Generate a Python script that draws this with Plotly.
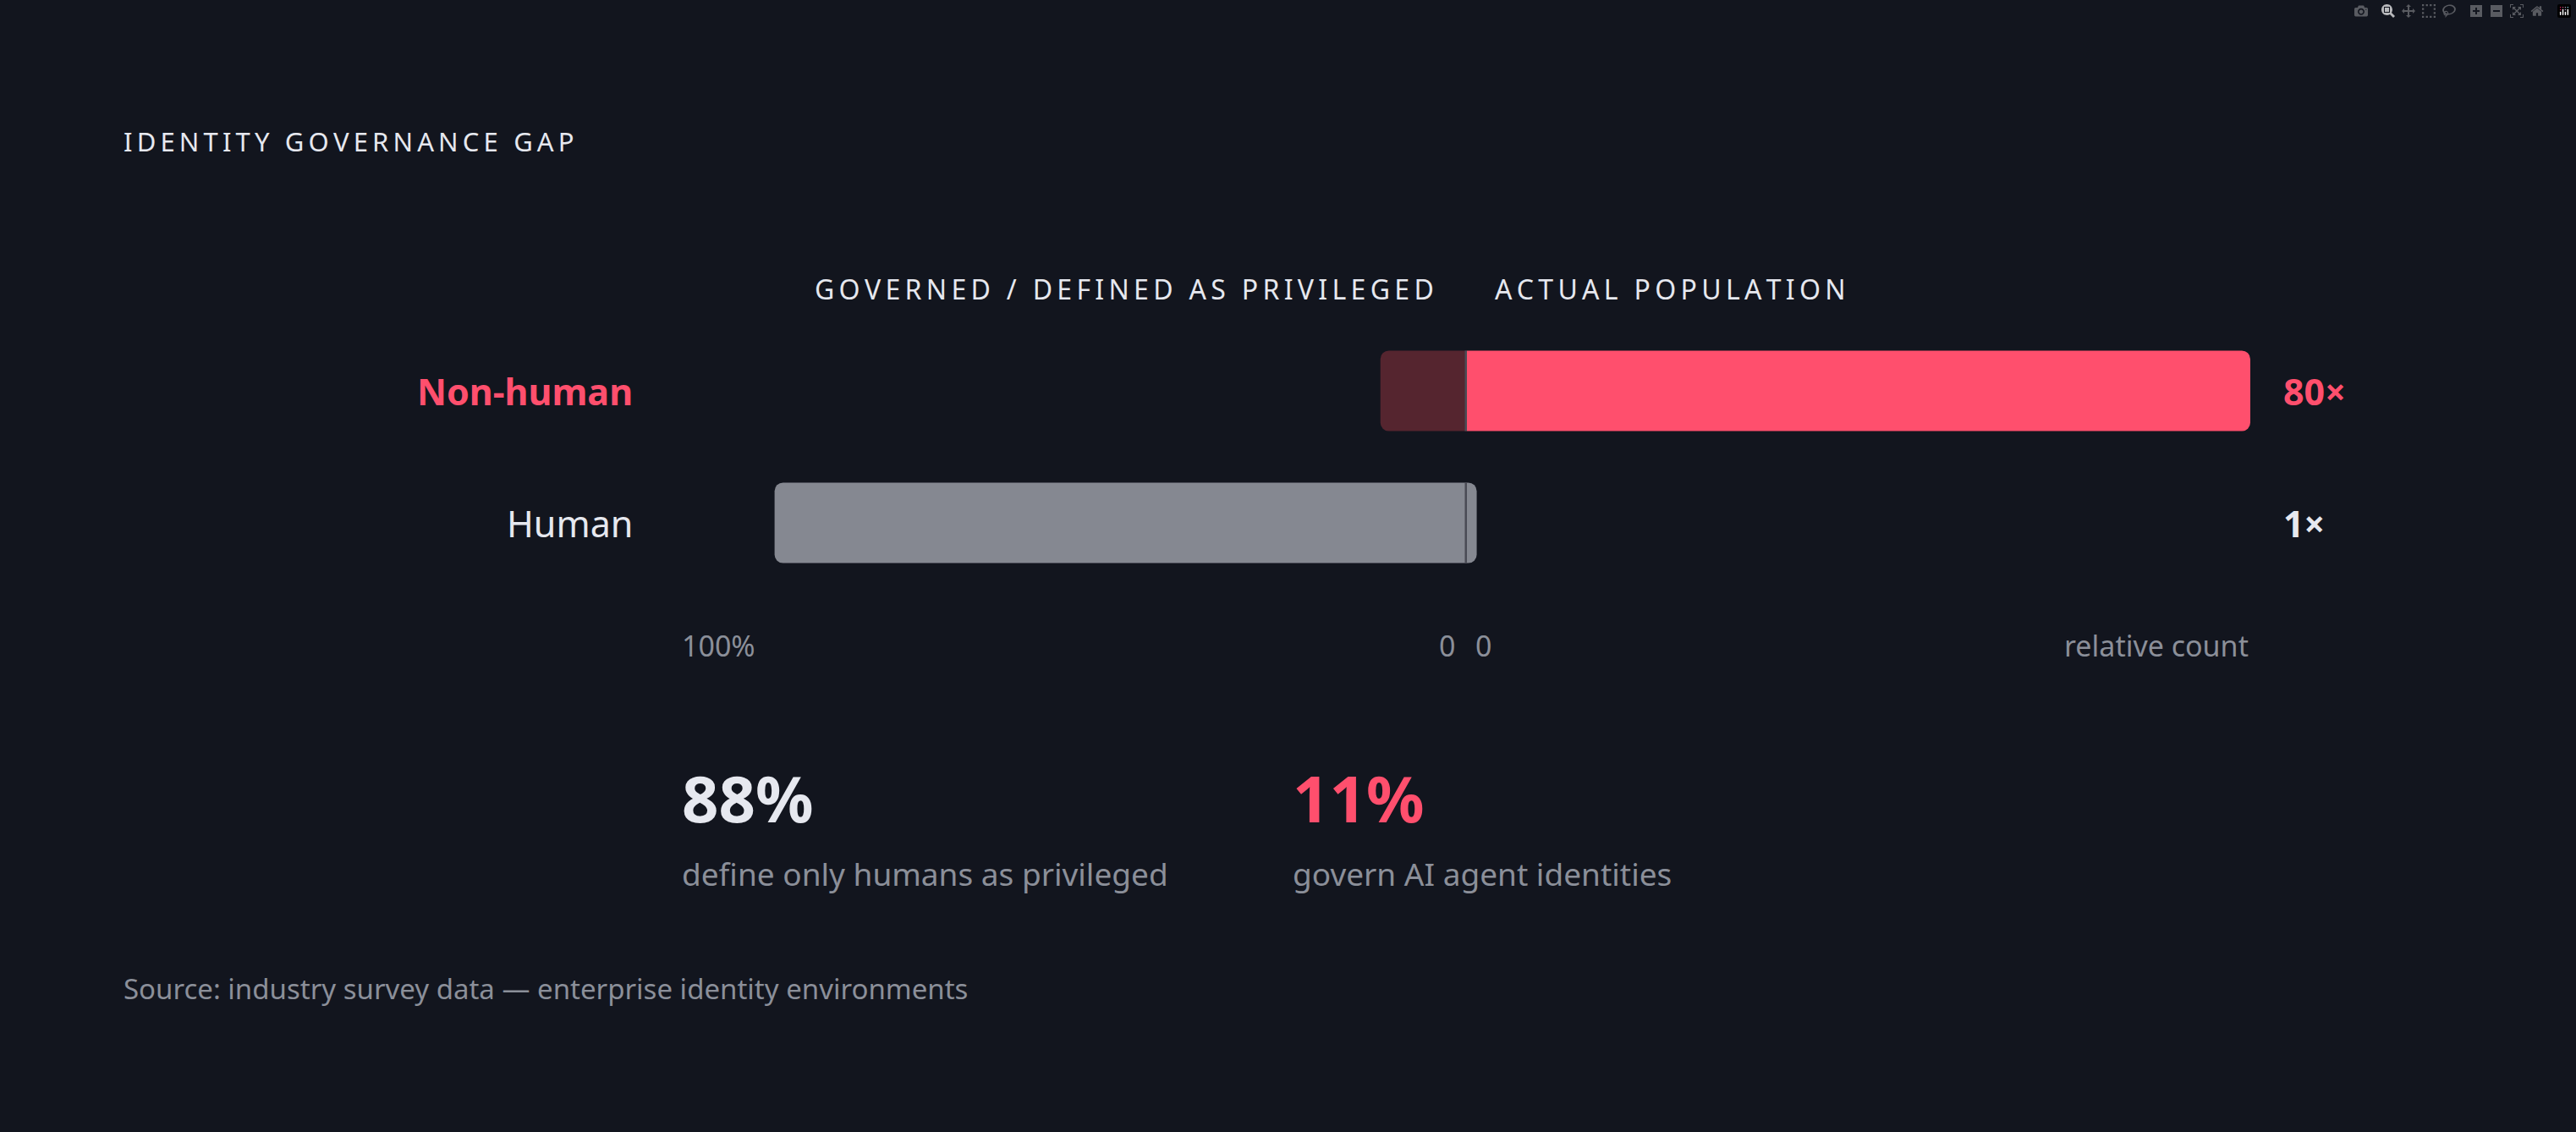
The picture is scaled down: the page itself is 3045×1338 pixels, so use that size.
import plotly.graph_objects as go

categories = ["Human", "Non-human"]
governed_pct = [88, 11]          # % governed / defined as privileged
population = [1, 80]            # relative count
pop_labels = ["1×", "80×"]
stat_values = ["88%", "11%"]
stat_texts = ["define only humans as privileged", "govern AI agent identities"]

W, H = 3045, 1338
BG = "#12151e"
PINK = "#ff4f6d"
DARK = "#55252f"
GREY = "#858891"
WHITE = "#e6e8ef"
MUTED = "#8b8f99"
FONT = "Noto Sans"

def px(x): return x / W
def py(y): return 1 - y / H

def spaced(s):
    return "\u2009".join(s)

fig = go.Figure()
fig.add_trace(go.Bar(y=categories, x=governed_pct, orientation="h",
                     marker=dict(color=[GREY, DARK], cornerradius=10, line_width=0),
                     width=0.61, xaxis="x", yaxis="y", hoverinfo="skip"))
fig.add_trace(go.Bar(y=categories, x=population, orientation="h",
                     marker=dict(color=[GREY, PINK], cornerradius=10, line_width=0),
                     width=0.61, xaxis="x2", yaxis="y2", hoverinfo="skip"))

ydom = [py(696), py(384)]
fig.update_layout(
    width=W, height=H, paper_bgcolor=BG, plot_bgcolor=BG,
    margin=dict(l=0, r=0, t=0, b=0), showlegend=False,
    font=dict(family=FONT, color=WHITE),
    xaxis=dict(domain=[px(804), px(1734)], range=[100, 0], visible=False, fixedrange=True),
    xaxis2=dict(domain=[px(1734), px(2660)], range=[0, 80], visible=False, fixedrange=True),
    yaxis=dict(domain=ydom, range=[-0.5, 1.5], visible=False, anchor="x"),
    yaxis2=dict(domain=ydom, range=[-0.5, 1.5], visible=False, anchor="x2"),
)

for i in range(2):
    fig.add_shape(type="line", xref="x", yref="y", x0=0, x1=0,
                  y0=i - 0.305, y1=i + 0.305, line=dict(color="#4a4b55", width=5))

def txt(x, y, s, size, color, anchor="left", bold=False):
    fig.add_annotation(x=px(x), y=py(y), xref="paper", yref="paper", text=f"<b>{s}</b>" if bold else s,
                       showarrow=False, xanchor=anchor, yanchor="middle",
                       font=dict(size=size, color=color, family=FONT))

txt(144, 167, spaced("IDENTITY GOVERNANCE GAP"), 31, WHITE)
txt(1697, 341, spaced("GOVERNED / DEFINED AS PRIVILEGED"), 32, WHITE, "right")
txt(1765, 341, spaced("ACTUAL POPULATION"), 32, WHITE)

row_colors = [WHITE, PINK]
row_y = [618, 462]
for c, yy, col, lab in zip(categories, row_y, row_colors, pop_labels):
    txt(750, yy, c, 43, col, "right", bold=(c == "Non-human"))
    txt(2697, yy, lab, 43, col, "left", bold=True)

txt(804, 763, "100%", 34, MUTED)
txt(1722, 763, "0", 34, MUTED, "right")
txt(1742, 763, "0", 34, MUTED)
txt(2660, 763, "relative count", 34, MUTED, "right")

for xx, v, t, col in zip([804, 1526], stat_values, stat_texts, [WHITE, PINK]):
    txt(xx, 942, v, 76, col, bold=True)
    txt(xx, 1032, t, 37, MUTED)

txt(144, 1168, "Source: industry survey data — enterprise identity environments", 33, MUTED)

fig.write_html("out.html",
               post_script="document.body.style.margin='0';document.body.style.background='%s';" % BG)
